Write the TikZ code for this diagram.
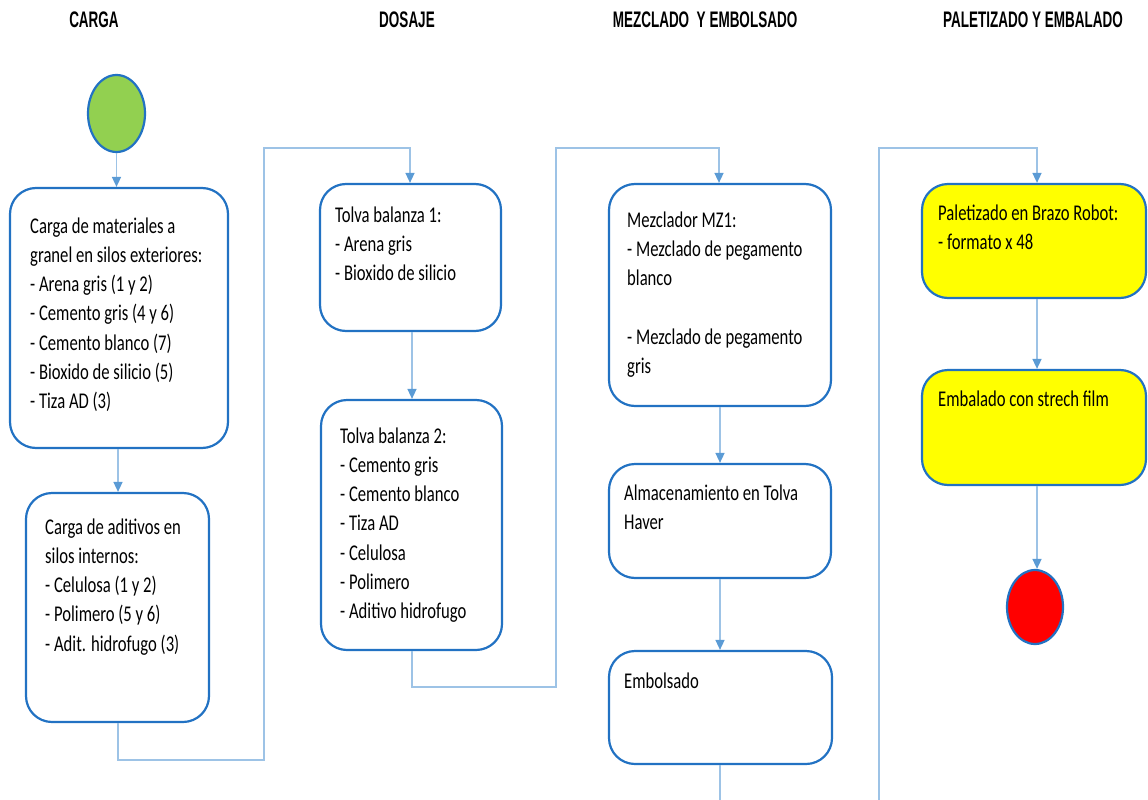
\documentclass[tikz,border=0pt]{standalone}
\usepackage{fontspec}
\usetikzlibrary{arrows.meta,shapes.geometric}
\newfontfamily\bodyfont[FakeStretch=0.74]{Carlito}
\newfontfamily\hdrfont[FakeStretch=0.6]{Liberation Sans}
\definecolor{boxblue}{HTML}{2272C3}
\definecolor{lineblue}{HTML}{9DC3E6}
\definecolor{tipblue}{HTML}{5B9BD5}
\definecolor{startgreen}{HTML}{92D050}
\definecolor{fillyellow}{HTML}{FFFF00}
\definecolor{endred}{HTML}{FF0000}
\newcommand{\lines}[1]{\begin{tabular}[t]{@{}l@{}}#1\end{tabular}}
\tikzset{
  x=1pt, y=-1pt,
  stepbox/.style={draw=boxblue, line width=2.2pt, rounded corners=26pt, fill=white, inner sep=0pt},
  yellowbox/.style={stepbox, fill=fillyellow},
  term/.style={ellipse, draw=boxblue, line width=2.2pt, inner sep=0pt, minimum width=57pt, minimum height=77pt},
  txt/.style={anchor=base west, inner sep=0pt, font=\bodyfont\fontsize{22.5}{29.3}\selectfont},
  hdr/.style={inner sep=0pt, font=\hdrfont\bfseries\fontsize{22.5}{26}\selectfont},
  conn/.style={draw=lineblue, line width=1.5pt},
  arr/.style={conn, -{Triangle[width=9pt,length=10pt,color=tipblue]}}
}
\begin{document}
\begin{tikzpicture}
\useasboundingbox (0,0) rectangle (1148,800);
% headers
\node[hdr] (h1) at (94,20) {CARGA};
\node[hdr] (h2) at (407,20) {DOSAJE};
\node[hdr] (h3) at (705,20) {MEZCLADO \ Y EMBOLSADO};
\node[hdr] (h4) at (1033,20) {PALETIZADO Y EMBALADO};
% terminals
\node[term, fill=startgreen] (start) at (116.5,113.5) {};
\node[term, fill=endred, minimum width=56pt, minimum height=74pt] (stop) at (1035,607) {};
% boxes
\node[stepbox, minimum width=218pt, minimum height=260pt] (b1) at (119,318) {};
\node[stepbox, minimum width=183pt, minimum height=229pt] (b2) at (117.5,607.5) {};
\node[stepbox, minimum width=181pt, minimum height=147pt] (b3) at (410.5,257.5) {};
\node[stepbox, minimum width=181pt, minimum height=250pt] (b4) at (411.5,525) {};
\node[stepbox, minimum width=222pt, minimum height=222pt] (b5) at (720,295) {};
\node[stepbox, minimum width=222pt, minimum height=114pt] (b6) at (720,521) {};
\node[stepbox, minimum width=223pt, minimum height=113pt] (b7) at (720.5,707.5) {};
\node[yellowbox, minimum width=224pt, minimum height=114pt] (b8) at (1034,241) {};
\node[yellowbox, minimum width=224pt, minimum height=115pt] (b9) at (1034,427.5) {};
% texts
\node[txt] (t1) at (30,233) {\lines{Carga de materiales a\\granel en silos exteriores:\\- Arena gris (1 y 2)\\- Cemento gris (4 y 6)\\- Cemento blanco (7)\\- Bioxido de silicio (5)\\- Tiza AD (3)}};
\node[txt] (t2) at (45,534) {\lines{Carga de aditivos en\\silos internos:\\- Celulosa (1 y 2)\\- Polimero (5 y 6)\\- Adit. hidrofugo (3)}};
\node[txt] (t3) at (335,222) {\lines{Tolva balanza 1:\\- Arena gris\\- Bioxido de silicio}};
\node[txt] (t4) at (340,443) {\lines{Tolva balanza 2:\\- Cemento gris\\- Cemento blanco\\- Tiza AD\\- Celulosa\\- Polimero\\- Aditivo hidrofugo}};
\node[txt] (t5) at (627,227) {\lines{Mezclador MZ1:\\- Mezclado de pegamento\\blanco\\ \\- Mezclado de pegamento\\gris}};
\node[txt] (t6) at (624,500) {\lines{Almacenamiento en Tolva\\Haver}};
\node[txt] (t7) at (624,688) {Embolsado};
\node[txt] (t8) at (938,220) {\lines{Paletizado en Brazo Robot:\\- formato x 48}};
\node[txt] (t9) at (938,406) {Embalado con strech film};
% junction coordinates
\coordinate (j1) at (264,760);
\coordinate (j2) at (264,148);
\coordinate (j3) at (556,687);
\coordinate (j4) at (556,148);
\coordinate (j5) at (720,800);
\coordinate (j6) at (879,800);
\coordinate (j7) at (879,148);
% connectors
\draw[arr] (start.south) -- (b1.north -| start.south);
\draw[arr] (b1.south -| 118,0) -- (b2.north -| 118,0);
\draw[arr] (b2.south -| 118,0) |- (j1) -- (j2) -| (b3.north -| 410,0);
\draw[arr] (b3.south -| 412,0) -- (b4.north -| 412,0);
\draw[arr] (b4.south -| 412,0) |- (j3) -- (j4) -| (b5.north -| 719,0);
\draw[arr] (b5.south -| 720,0) -- (b6.north -| 720,0);
\draw[arr] (b6.south -| 720,0) -- (b7.north -| 720,0);
\draw[conn] (b7.south -| 720,0) -- (j5);
\draw[arr] (j6) -- (j7) -| (b8.north -| 1037,0);
\draw[arr] (b8.south -| 1037,0) -- (b9.north -| 1037,0);
\draw[arr] (b9.south -| 1037,0) -- (stop.north -| 1037,0);
\end{tikzpicture}
\end{document}
